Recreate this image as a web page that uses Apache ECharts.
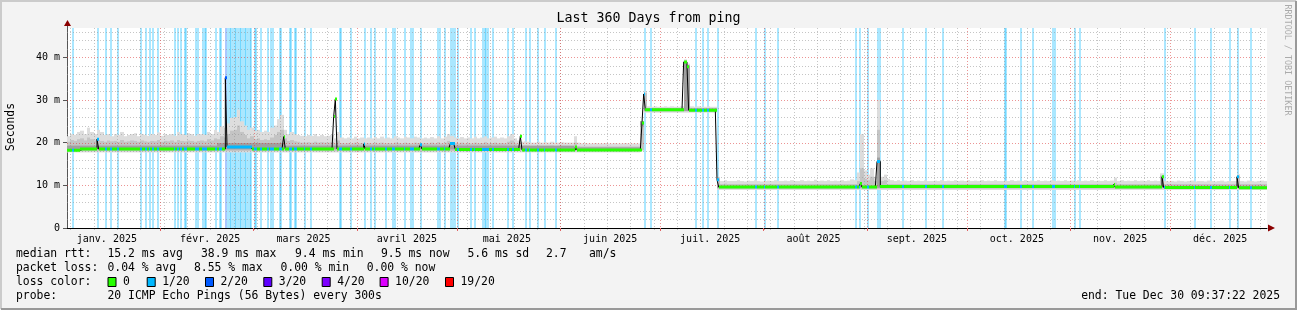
<!DOCTYPE html>
<html><head><meta charset="utf-8">
<script src="https://cdn.jsdelivr.net/npm/echarts@6/dist/echarts.min.js"></script>
<style>html,body{margin:0;padding:0;background:#f3f3f3;}#chart{width:1297px;height:310px;}</style>
</head><body><div id="chart"></div>
<script>
// ================= DATA =================
const title = 'Last 360 Days from ping';
const yAxisName = 'Seconds';
const watermark = 'RRDTOOL / TOBI OETIKER';
const rangeStart = '2025-01-04T01:00';
const rangeEnd = '2025-12-30T01:00';
const monthStarts = ['2025-02-01','2025-03-01','2025-04-01','2025-05-01','2025-06-01','2025-07-01','2025-08-01','2025-09-01','2025-10-01','2025-11-01','2025-12-01'];
const monthLabelDates = ['2025-01-16','2025-02-16','2025-03-16','2025-04-16','2025-05-16','2025-06-16','2025-07-16','2025-08-16','2025-09-16','2025-10-16','2025-11-16','2025-12-16'];
const monthLabels = ['janv. 2025','févr. 2025','mars 2025','avril 2025','mai 2025','juin 2025','juil. 2025','août 2025','sept. 2025','oct. 2025','nov. 2025','déc. 2025'];
const firstWeekLine = '2025-01-05';
const yTickValues = [0, 10, 20, 30, 40];
const yTickLabels = ['0', '10 m', '20 m', '30 m', '40 m'];
const yMajorGrid = [10, 20, 30, 40];
const yMinorGrid = [2,4,6,8,12,14,16,18,22,24,26,28,32,34,36,38,42,44,46];
const yMax = 46.85;

// median rtt (ms), 12-hour steps, as [value, number of steps]
const medianRuns = [
  [18.2,8],[18.5,10],[20.8,1],[18.5,76],[35.2,1],[19.0,15],[18.5,19],[21.4,1],[18.5,29],[26.1,1],[30.2,1],
  [18.5,16],[19.7,1],[18.5,33],[19.5,1],[18.5,17],[19.8,3],[18.4,39],[21.5,1],[18.3,32],[19.0,1],[18.3,39],
  [24.6,1],[31.4,1],[27.7,23],[38.9,2],[37.8,1],[27.6,17],[11.3,1],[9.6,85],[10.4,1],[9.6,9],[15.6,2],
  [9.7,140],[10.2,1],[9.6,28],[12.0,1],[9.5,44],[12.0,1],[9.4,17]
];
// 12-hour steps with packet loss, and lost pings (of 20)
const lossSteps = [3,18,23,26,30,44,47,49,51,54,64,66,68,70,71,77,78,81,82,83,89,91,92,95,
  96,97,98,99,100,101,102,103,104,105,106,107,108,109,110,112,113,116,120,122,123,127,128,133,134,136,137,
  142,146,163,164,170,178,182,184,191,195,196,202,206,207,212,222,223,226,230,231,232,234,242,244,
  249,250,251,252,255,264,267,275,277,282,286,293,346,350,377,381,384,390,413,418,426,473,475,480,486,487,
  501,515,525,562,563,572,579,591,592,604,607,658,676,686,697,702,710];
const lossCounts = lossSteps.map(s => s === 95 ? 2 : 1);
const lossClasses = [0, 1, 2, 3, 4, 10, 19];
const lossClassLabels = ['0', '1/20', '2/20', '3/20', '4/20', '10/20', '19/20'];
const lossClassColors = ['#26ff00', '#00b8ff', '#0059ff', '#5e00ff', '#7e00ff', '#dd00ff', '#ff0000'];

// smoke (ms), one value per day
const smokeHi = [
21.5,22.0,21.8,22.5,22.8,22.0,23.5,22.5,22.0,23.0, 22.5,21.8,22.0,21.5,22.0,21.8,22.5,21.5,21.8,22.0,
22.2,21.5,22.0,21.8,21.6,22.0,21.8,22.4,21.6,22.0, 21.8,22.0,21.6,22.5,22.0,21.8,22.2,22.0,21.6,22.0,
22.0,21.8,22.5,22.0,23.0,22.5,23.8,23.5,24.5,25.8, 26.0,27.7,25.0,24.0,23.0,23.5,22.8,23.0,22.5,22.8,
22.5,23.5,24.0,25.5,26.5,23.0,22.0,22.5,22.0,21.8, 21.6,21.5,21.8,21.6,22.0,21.5,21.8,21.5,21.6,21.8,
21.0,22.5,21.2,21.0,21.2,21.0,21.4,21.0,21.2,21.0, 21.2,21.0,21.3,21.0,21.4,21.0,21.2,21.0,21.5,21.2,
21.0,21.4,21.2,21.0,21.4,21.2,21.0,21.2,21.0,21.3, 21.0,21.5,21.0,21.4,22.0,21.6,21.2,21.0,21.3,21.0,
21.2,21.0,21.4,21.0,21.2,21.5,21.0,21.2,21.4,21.0, 21.2,21.0,21.5,22.0,21.0,20.5,20.2,20.3,20.2,20.0,
20.0,20.2,20.0,20.1,20.0,20.2,20.0,20.0,20.1,20.0, 20.0,20.0,21.5,20.0,19.8,19.9,19.8,19.8,19.9,19.8,
19.8,19.9,19.8,19.8,19.9,19.8,19.8,19.9,19.8,19.8, 19.8,19.8,25.0,32.0,28.5,28.4,28.5,28.4,28.4,28.5,
28.4,28.5,28.4,28.4,28.5,39.5,38.5,28.5,28.4,28.5, 28.4,28.4,28.5,28.4,28.4,12.0,11.0,11.2,11.0,11.0,
11.0,11.2,11.0,10.9,11.1,11.0,11.2,11.0,10.9,11.0, 11.1,11.0,11.2,11.0,11.0,11.1,11.0,11.2,11.0,11.0,
11.2,11.0,11.1,11.0,11.3,11.0,11.1,11.0,11.2,11.0, 11.1,11.0,11.2,11.0,11.1,11.4,11.2,13.0,22.0,13.5,
12.5,14.0,12.0,30.0,12.0,12.5,11.5,11.2,11.0,11.2, 11.0,11.1,11.0,11.2,11.0,11.1,11.0,11.2,11.0,11.0,
11.1,11.0,11.2,11.0,11.1,11.0,11.2,11.0,11.1,11.0, 11.2,11.0,11.1,11.0,11.2,11.0,11.1,11.0,11.2,11.0,
11.0,11.1,11.0,11.2,11.0,11.1,11.0,11.2,11.0,11.1, 11.0,11.2,11.0,11.1,11.0,11.2,11.0,11.1,11.0,11.2,
11.0,11.1,11.0,11.2,11.0,11.1,11.0,11.2,11.0,11.1, 11.0,11.2,11.0,11.1,11.8,11.0,11.2,11.0,11.1,11.0,
11.2,11.0,11.1,11.0,11.2,11.0,11.1,11.0,12.8,11.0, 10.9,11.0,10.9,11.1,11.0,10.9,11.0,11.1,10.9,11.0,
11.0,10.9,11.1,11.0,10.9,11.0,11.1,10.9,11.0,11.0, 11.0,12.6,11.0,10.9,11.1,11.0,10.9,11.0,11.1,11.0
];
const smokeMid = [
20.2,20.6,20.4,20.8,21.0,20.5,21.2,20.8,20.5,20.6, 20.4,20.2,20.5,20.3,20.4,20.2,20.6,20.2,20.3,20.5,
20.4,20.2,20.5,20.3,20.2,20.4,20.3,20.6,20.2,20.4, 20.3,20.5,20.2,20.6,20.4,20.3,20.5,20.4,20.2,20.4,
20.5,20.3,20.8,20.5,21.0,20.8,21.5,21.2,22.0,22.8, 23.0,24.0,22.5,21.8,21.0,21.5,20.8,21.0,20.6,20.8,
20.6,21.2,21.8,22.5,23.0,21.0,20.4,20.6,20.3,20.2, 20.0,20.0,20.1,20.0,20.2,20.0,20.1,20.0,20.0,20.1,
19.8,20.5,19.9,19.8,19.9,19.8,20.0,19.8,19.9,19.8, 19.9,19.8,20.0,19.8,20.0,19.8,19.9,19.8,20.0,19.9,
19.8,20.0,19.9,19.8,20.0,19.9,19.8,19.9,19.8,20.0, 19.8,20.1,19.8,20.0,20.4,20.1,19.9,19.8,20.0,19.8,
19.9,19.8,20.0,19.8,19.9,20.1,19.8,19.9,20.0,19.8, 19.9,19.8,20.2,20.5,19.8,19.5,19.3,19.4,19.3,19.2,
19.2,19.3,19.2,19.2,19.2,19.3,19.2,19.2,19.2,19.2, 19.2,19.2,20.0,19.2,19.1,19.1,19.1,19.1,19.1,19.1,
19.1,19.1,19.1,19.1,19.1,19.1,19.1,19.1,19.1,19.1, 19.1,19.1,24.8,31.6,28.1,28.1,28.1,28.1,28.1,28.1,
28.1,28.1,28.1,28.1,28.1,39.2,38.2,28.1,28.1,28.1, 28.1,28.1,28.1,28.1,28.1,11.6,10.3,10.4,10.3,10.3,
10.3,10.3,10.3,10.3,10.3,10.3,10.3,10.3,10.3,10.3, 10.3,10.3,10.3,10.3,10.3,10.3,10.3,10.3,10.3,10.3,
10.3,10.3,10.3,10.3,10.3,10.3,10.3,10.3,10.3,10.3, 10.3,10.3,10.3,10.3,10.3,10.3,10.3,11.0,14.0,11.5,
11.2,12.0,11.0,23.0,11.0,11.2,10.3,10.3,10.3,10.3, 10.3,10.3,10.3,10.3,10.3,10.3,10.3,10.3,10.3,10.3,
10.3,10.3,10.3,10.3,10.3,10.3,10.3,10.3,10.3,10.3, 10.3,10.3,10.3,10.3,10.3,10.3,10.3,10.3,10.3,10.3,
10.3,10.3,10.3,10.3,10.3,10.3,10.3,10.3,10.3,10.3, 10.3,10.3,10.3,10.3,10.3,10.3,10.3,10.3,10.3,10.3,
10.3,10.3,10.3,10.3,10.3,10.3,10.3,10.3,10.3,10.3, 10.3,10.3,10.3,10.3,10.6,10.3,10.3,10.3,10.3,10.3,
10.3,10.3,10.3,10.3,10.3,10.3,10.3,10.3,12.3,10.3, 10.3,10.3,10.3,10.3,10.3,10.3,10.3,10.3,10.3,10.3,
10.3,10.3,10.3,10.3,10.3,10.3,10.3,10.3,10.3,10.3, 10.3,12.2,10.3,10.3,10.3,10.3,10.3,10.3,10.3,10.3
];
const smokeLoRuns = [[17.7,172],[18.0,1],[27.0,22],[8.9,165]];
const smokeMidLoRuns = [[18.0,172],[18.3,1],[27.3,22],[9.2,165]];
// densest pings around the median, [value, number of days]
const smokeCoreLoRuns = [[18.4,172],[24.0,1],[27.4,22],[9.4,165]];
const smokeCoreHiRuns = [[19.3,45],[19.9,20],[19.3,87],[18.9,20],[25.0,1],[28.0,12],[39.0,1],[38.0,1],[28.0,8],[9.9,48],[16.5,1],[9.9,116]];

const statsRows = [
  ['median rtt:', '15.2 ms avg', '38.9 ms max', '9.4 ms min', '9.5 ms now', '5.6 ms sd', '2.7', 'am/s'],
  ['packet loss:', '0.04 % avg', '8.55 % max', '0.00 % min', '0.00 % now']
];
const lossColorTitle = 'loss color:';
const probeRow = ['probe:', '20 ICMP Echo Pings (56 Bytes) every 300s'];
const endText = 'end: Tue Dec 30 09:37:22 2025';

// ================= HELPERS =================
function ts(s) {
  const [d, t = '00:00'] = s.split('T');
  const [y, m, dd] = d.split('-').map(Number);
  const [hh, mm] = t.split(':').map(Number);
  return Date.UTC(y, m - 1, dd, hh, mm);
}
function expandRuns(runs) { const out = []; runs.forEach(([v, n]) => { for (let i = 0; i < n; i++) out.push(v); }); return out; }
const DAY = 86400000, STEP = DAY / 2;
const xMin = ts(rangeStart), xMax = ts(rangeEnd);
const medianVals = expandRuns(medianRuns);
const lossByStep = medianVals.map(() => 0);
lossSteps.forEach((s, i) => { lossByStep[s] = lossCounts[i]; });
const smokeLo = expandRuns(smokeLoRuns);
const smokeMidLo = expandRuns(smokeMidLoRuns);
const smokeCoreLo = expandRuns(smokeCoreLoRuns);
const smokeCoreHi = expandRuns(smokeCoreHiRuns);
function lossColorIndex(c) { let k = 0; lossClasses.forEach((th, i) => { if (c >= th) k = i; }); return k; }
function hexA(hex, a) {
  const n = parseInt(hex.slice(1), 16);
  return 'rgba(' + (n >> 16 & 255) + ',' + (n >> 8 & 255) + ',' + (n & 255) + ',' + a + ')';
}
const monthStartT = monthStarts.map(ts);
const monthLabelT = monthLabelDates.map(ts);
const weekT = [];
for (let t = ts(firstWeekLine); t < xMax; t += 7 * DAY) weekT.push(t);

const MONO = '"DejaVu Sans Mono", monospace';

// ================= SERIES =================
function rectItem(t0, t1, lo, hi, api, fill, minW) {
  const a = api.coord([t0, hi]), b = api.coord([t1, lo]);
  const x = Math.round(a[0]), x2 = Math.round(b[0]);
  return { type: 'rect', shape: { x: x, y: a[1], width: Math.max(minW || 1, x2 - x), height: b[1] - a[1] }, style: { fill: fill } };
}

const lossBandSeries = {
  type: 'custom', name: 'lossbg', z: 1, clip: true, silent: true,
  data: lossSteps.map((s, i) => [xMin + s * STEP, lossCounts[i]]),
  renderItem: (p, api) => {
    const t = api.value(0);
    return rectItem(t, t + STEP, 0, yMax, api, hexA(lossClassColors[lossColorIndex(api.value(1))], 0.333), 2);
  }
};
function smokeSeries(lo, hi, color, z) {
  return {
    type: 'custom', z: z, clip: true, silent: true,
    data: hi.map((h, d) => [xMin + d * DAY, lo[d], h]),
    renderItem: (p, api) => { const t = api.value(0); return rectItem(t, t + DAY, api.value(1), api.value(2), api, color, 1); }
  };
}
function hGrid(values, color, z) {
  return {
    type: 'custom', z: z, clip: false, silent: true,
    data: values.map(v => [xMin, v]),
    renderItem: (p, api) => {
      const a = api.coord([xMin, api.value(1)]), b = api.coord([xMax, api.value(1)]);
      const y = Math.round(a[1]) + 0.5;
      return { type: 'line', shape: { x1: a[0], y1: y, x2: b[0], y2: y }, style: { stroke: color, lineWidth: 1, lineDash: [1, 2] } };
    }
  };
}
function vGrid(times, color, z) {
  return {
    type: 'custom', z: z, clip: false, silent: true,
    data: times.map(t => [t, 0]),
    renderItem: (p, api) => {
      const a = api.coord([api.value(0), yMax]), b = api.coord([api.value(0), 0]);
      const x = Math.round(a[0]) + 0.5;
      return { type: 'line', shape: { x1: x, y1: a[1], x2: x, y2: b[1] + 2 }, style: { stroke: color, lineWidth: 1, lineDash: [1, 2] } };
    }
  };
}
const medianLine = {
  type: 'line', z: 6, step: 'end', symbol: 'none', silent: true, animation: false,
  lineStyle: { color: '#000', width: 1 },
  data: medianVals.map((v, i) => [xMin + i * STEP, v]).concat([[xMax, medianVals[medianVals.length - 1]]])
};
const medianColor = {
  type: 'custom', z: 7, clip: true, silent: true,
  data: medianVals.map((v, i) => [xMin + i * STEP, v, lossByStep[i]]),
  renderItem: (p, api) => {
    const t = api.value(0);
    const a = api.coord([t, api.value(1)]), b = api.coord([t + STEP, api.value(1)]);
    const x = Math.round(a[0]), x2 = Math.round(b[0]);
    return { type: 'rect', shape: { x: x, y: a[1] - 1.5, width: Math.max(1, x2 - x), height: 3 },
      style: { fill: lossClassColors[lossColorIndex(api.value(2))] } };
  }
};

// ================= GRAPHIC (texts) =================
const graphics = [];
function txt(x, y, text, opt) {
  graphics.push(Object.assign({ type: 'text', x: x, y: y, silent: true,
    style: Object.assign({ text: text, fill: '#000', font: '11.4px ' + MONO, textAlign: 'left', textVerticalAlign: 'middle', align: 'left', verticalAlign: 'middle' }, opt && opt.style || {}) },
    opt && opt.el || {}));
}
// frame
graphics.push({ type: 'polyline', silent: true, shape: { points: [[1, 309], [1, 1], [1296, 1]] }, style: { stroke: '#cbcbcb', lineWidth: 2, fill: null } });
graphics.push({ type: 'polyline', silent: true, shape: { points: [[1, 309], [1296, 309], [1296, 1]] }, style: { stroke: '#999999', lineWidth: 2, fill: null } });
// title
txt(648.5, 19, title, { style: { font: '13.3px ' + MONO, textAlign: 'center', align: 'center' } });
// y name
txt(11, 127, yAxisName, { style: { textAlign: 'center', align: 'center' }, el: { rotation: Math.PI / 2 } });
// watermark
txt(1287, 60, watermark, { style: { font: '8.4px ' + MONO, fill: '#ababab', textAlign: 'center', align: 'center' }, el: { rotation: -Math.PI / 2 } });
// axis extensions & arrows
graphics.push({ type: 'line', silent: true, shape: { x1: 67.5, y1: 25, x2: 67.5, y2: 28 }, style: { stroke: '#555', lineWidth: 1 } });
graphics.push({ type: 'polygon', silent: true, shape: { points: [[64, 26], [71, 26], [67.5, 20]] }, style: { fill: '#8b0000' } });
graphics.push({ type: 'polygon', silent: true, shape: { points: [[1268, 224.5], [1268, 231.5], [1275, 228]] }, style: { fill: '#8b0000' } });
// legend
const colX = [16, 107.5, 201, 295, 381, 467.5, 546, 589];
const col2X = [16, 107.5, 194, 280.5, 366.7];
const rowY = [254, 268, 282, 296];
statsRows[0].forEach((s, i) => txt(colX[i], rowY[0], s));
statsRows[1].forEach((s, i) => txt(col2X[i], rowY[1], s));
txt(16, rowY[2], lossColorTitle);
const boxX = [107.5, 146.7, 205, 263.3, 321.7, 379.6, 445];
lossClassLabels.forEach((lab, i) => {
  graphics.push({ type: 'rect', silent: true, shape: { x: boxX[i] + 0.5, y: rowY[2] - 4.5, width: 8, height: 9 }, style: { fill: lossClassColors[i], stroke: '#000', lineWidth: 1 } });
  txt(boxX[i] + 15.5, rowY[2], lab);
});
txt(16, rowY[3], probeRow[0]);
txt(107.5, rowY[3], probeRow[1]);
txt(1280, rowY[3], endText, { style: { textAlign: 'right', align: 'right' } });

// ================= CHART =================
const chart = echarts.init(document.getElementById('chart'), null, { renderer: 'canvas' });
chart.setOption({
  animation: false,
  backgroundColor: '#f3f3f3',
  grid: { left: 67, right: 30, top: 28, bottom: 82, show: true, backgroundColor: '#ffffff', borderWidth: 0 },
  xAxis: {
    type: 'value', min: xMin, max: xMax,
    splitLine: { show: false },
    axisLine: { show: true, lineStyle: { color: '#000', width: 1 } },
    axisTick: { show: true, customValues: monthStartT, length: 3, lineStyle: { color: '#e06666' } },
    axisLabel: { show: true, customValues: monthLabelT, margin: 6,
      formatter: v => { const i = monthLabelT.indexOf(v); return i >= 0 ? monthLabels[i] : ''; },
      fontFamily: 'DejaVu Sans Mono', fontSize: 10, color: '#000' }
  },
  yAxis: {
    type: 'value', min: 0, max: yMax,
    splitLine: { show: false },
    axisLine: { show: true, lineStyle: { color: '#555', width: 1 } },
    axisTick: { show: true, customValues: yTickValues, length: 4, lineStyle: { color: '#555' } },
    axisLabel: { show: true, customValues: yTickValues, margin: 7,
      formatter: v => { const i = yTickValues.indexOf(v); return i >= 0 ? yTickLabels[i] : ''; },
      fontFamily: 'DejaVu Sans Mono', fontSize: 10, color: '#000' }
  },
  series: [
    lossBandSeries,
    smokeSeries(smokeLo, smokeHi, '#dddddd', 2),
    smokeSeries(smokeMidLo, smokeMid, '#c4c4c4', 3),
    smokeSeries(smokeCoreLo, smokeCoreHi, '#a0a0a0', 3),
    hGrid(yMinorGrid, 'rgba(150,150,150,0.55)', 4),
    vGrid(weekT, 'rgba(150,150,150,0.55)', 4),
    hGrid(yMajorGrid, 'rgba(220,60,60,0.55)', 5),
    vGrid(monthStartT, 'rgba(220,60,60,0.55)', 5),
    medianLine,
    medianColor
  ],
  graphic: graphics
});
</script></body></html>
